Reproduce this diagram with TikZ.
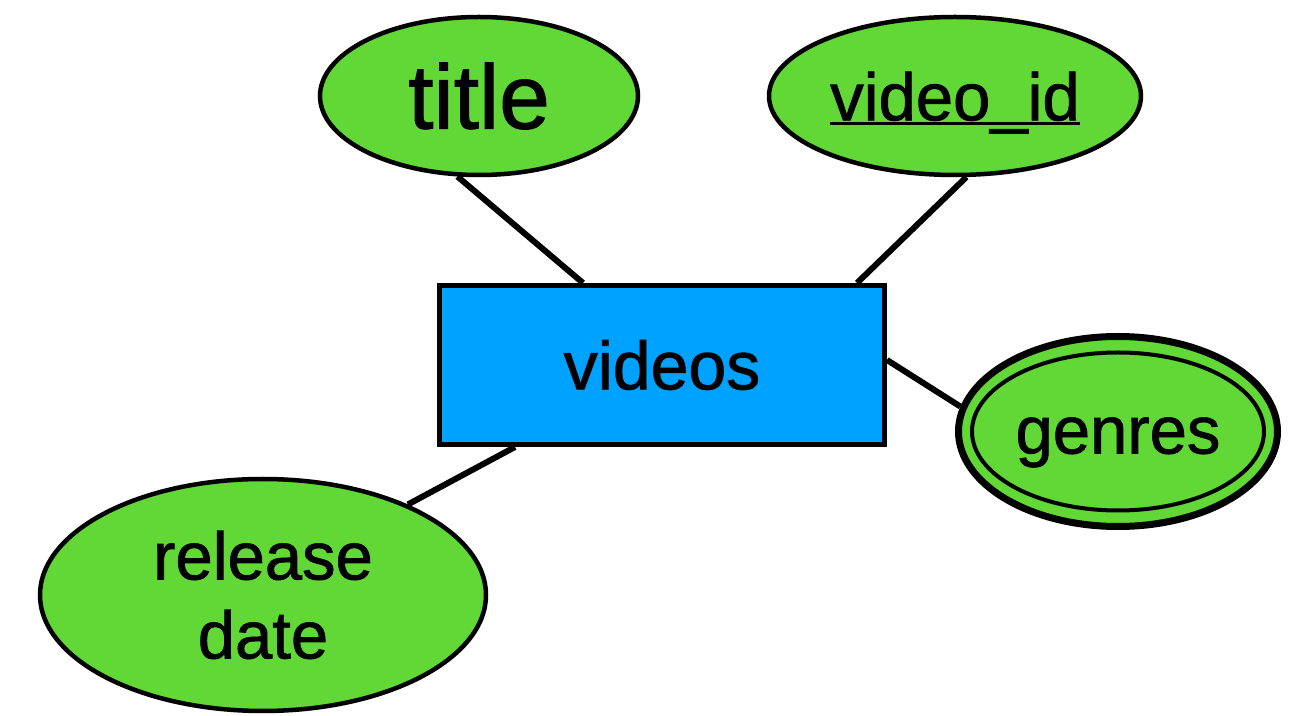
\documentclass[tikz,border=0pt]{standalone}
\usepackage{fontspec}
\setmainfont{Liberation Sans}
\newfontfamily\erfont[FakeBold=1.2]{Liberation Sans}
\usepackage{xcolor}
\usepackage{tikz}
\usetikzlibrary{calc}
\usetikzlibrary{shapes}
\usetikzlibrary{shapes.geometric}
\definecolor{attrgreen}{RGB}{97,216,54}
\definecolor{entityblue}{RGB}{0,162,255}
\tikzstyle{attr} = [ellipse, draw=black, line width=2.25pt, fill=attrgreen, inner sep=0, font=\erfont\fontsize{33.5}{39.5}\selectfont]
\tikzstyle{entity} = [rectangle, draw=black, line width=2.5pt, fill=entityblue, inner sep=0, font=\erfont\fontsize{34}{40}\selectfont]
\tikzstyle{link} = [-, line width=3pt, draw=black]
\newcommand{\keyattr}[1]{\setbox0\hbox{#1}\rlap{\rule[-2.5pt]{\wd0}{1.5pt}}\box0}

\begin{document}
\begin{tikzpicture}[x=0.5pt, y=-0.5pt]
\useasboundingbox (0,0) rectangle (1303,716);
%\node [draw=none] at (650,10) {ER};
\node [entity, minimum width=222.5pt, minimum height=79.5pt] (videos) at (662, 365) {videos};
\node [attr, minimum width=159pt, minimum height=79pt, font=\erfont\fontsize{45.5}{52}\selectfont] (title) at (479, 96) {title};
\node [attr, minimum width=186pt, minimum height=79pt, text depth=0pt] (vid) at (955, 96) {\keyattr{video\_id}};
\node [attr, minimum width=159.5pt, minimum height=95pt, line width=3.5pt, text height=22pt, text depth=0pt] (genres) at (1118, 431.5) {genres};
\draw [line width=2pt, draw=black] (genres.center) ellipse (73pt and 39.5pt);
\node [attr, minimum width=223pt, minimum height=116pt, align=center] (release) at (263, 595) {release\\date};
\draw [link] (title.255) to ([xshift=-39.5pt]videos.north);
\draw [link] (vid.278) to ([xshift=97.5pt]videos.north);
\draw [link] ([yshift=2.5pt]videos.east) to (genres.171);
\draw [link] ([xshift=-73.5pt]videos.south) to (release.32);
\end{tikzpicture}
\end{document}
